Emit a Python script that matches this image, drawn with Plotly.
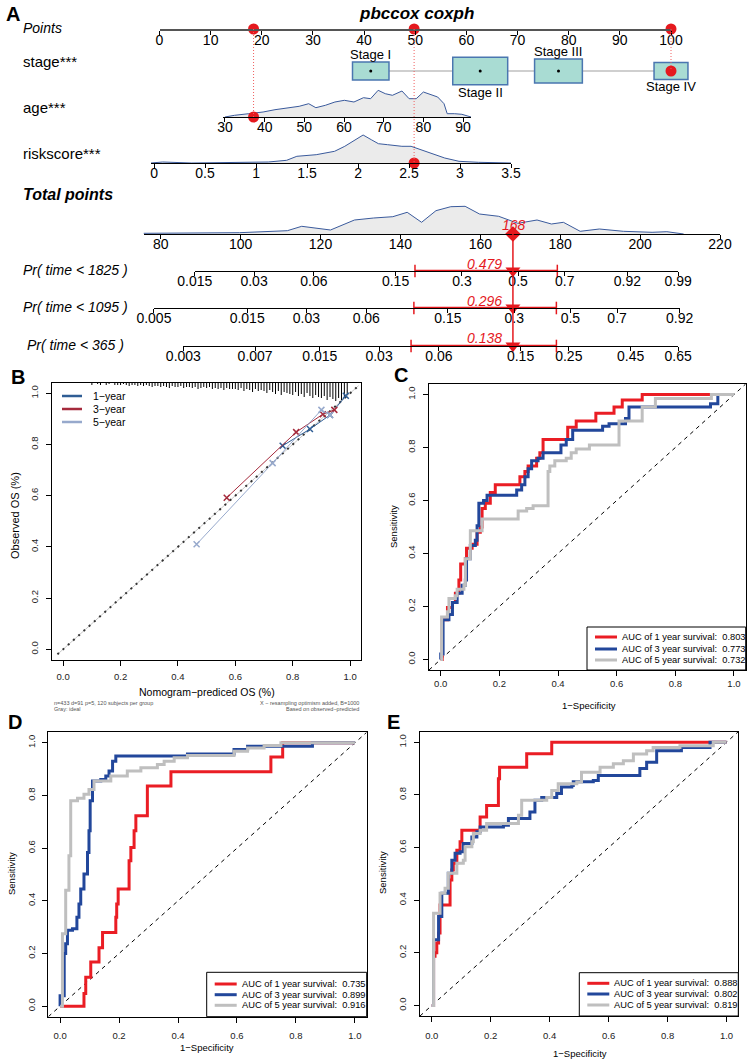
import numpy as np
import plotly.graph_objects as go

W, H = 749, 1062
FONT = "Arial, 'Liberation Sans', Helvetica, sans-serif"
RED = "#e5191e"
DENS_LINE = "#3a5a9c"
DENS_FILL = "#ebebeb"

# ---------------- Panel A: nomogram data
points_ticks = [0, 10, 20, 30, 40, 50, 60, 70, 80, 90, 100]

stage_labels = ["Stage I", "Stage II", "Stage III", "Stage IV"]
stage_points = [41.3, 62.7, 78.0, 100.0]
stage_n = [74, 168, 127, 64]
stage_label_side = ["above", "below", "above", "below"]

age_ticks = [30, 40, 50, 60, 70, 80, 90]
age_grid = [30.0, 32.4, 36.0, 39.6, 42.6, 45.6, 48.7, 51.1, 52.9, 55.3, 57.7, 60.1, 62.5, 64.9,
            66.7, 68.6, 70.4, 72.2, 74.6, 76.4, 78.2, 80.0, 81.8, 83.6, 85.2, 86.0, 87.8, 89.7, 92.0]
age_dens = [0, 1.7, 3.3, 5.0, 7.3, 9.3, 10.7, 13.3, 9.3, 11.7, 15.0, 16.7, 15.0, 19.3,
            18.3, 26.7, 23.3, 21.7, 26.0, 18.3, 18.3, 25.0, 22.7, 20.0, 13.3, 3.3, 3.3, 2.7, 0]

risk_ticks = [0, 0.5, 1, 1.5, 2, 2.5, 3, 3.5]
risk_grid = [-0.03, 0.085, 0.37, 0.74, 1.12, 1.30, 1.40, 1.59, 1.77, 1.87, 1.96, 2.05, 2.13, 2.20,
             2.29, 2.43, 2.52, 2.62, 2.71, 2.85, 2.99, 3.18, 3.5]
risk_dens = [0, 1.0, 0, 0.7, 1.0, 2.7, 6.7, 8.3, 11.7, 16.7, 22.7, 28.0, 23.3, 19.3,
             18.3, 16.7, 16.7, 13.3, 10.0, 5.0, 1.7, 0.7, 0]

total_ticks = [80, 100, 120, 140, 160, 180, 200, 220]
total_grid = [75.7, 87.6, 99.7, 111.7, 115.3, 122.5, 128.5, 133.3, 138.1, 141.7, 145.3, 148.9, 152.6,
              156.2, 159.8, 164.6, 169.4, 174.2, 177.8, 180.8, 185.0, 189.8, 195.8, 203.0, 206.7, 210.9]
total_dens = [0.7, 1.0, 1.3, 3.3, 7.7, 4.0, 14.0, 16.0, 17.3, 21.7, 11.7, 23.3, 27.3,
              27.7, 20.0, 17.7, 10.7, 14.0, 10.0, 11.7, 2.7, 5.0, 2.7, 1.7, 2.3, 0]

obs_stage = "Stage IV"
obs_age = 37.2
obs_risk = 2.55

pr_labels = ["Pr( time < 1825 )", "Pr( time < 1095 )", "Pr( time < 365 )"]
pr_ticks = [
    [0.015, 0.03, 0.06, 0.15, 0.3, 0.5, 0.7, 0.92, 0.99],
    [0.005, 0.015, 0.03, 0.06, 0.15, 0.3, 0.5, 0.7, 0.92],
    [0.003, 0.007, 0.015, 0.03, 0.06, 0.15, 0.25, 0.45, 0.65],
]
pr_obs = [0.479, 0.296, 0.138]
pr_ci_lo = [0.185, 0.103, 0.0435]
pr_ci_hi = [0.668, 0.444, 0.220]
haz_slope = 21.15  # total points per unit of log cumulative hazard

# ---------------- Panel B: calibration data
cal_years = ["1−year", "3−year", "5−year"]
cal_colors = ["#2f5d94", "#a52a3c", "#97a9cc"]
cal_pred = [[0.765, 0.86, 0.93, 0.985], [0.57, 0.812, 0.905, 0.945], [0.465, 0.73, 0.90, 0.93]]
cal_obs = [[0.795, 0.86, 0.915, 0.99], [0.592, 0.848, 0.918, 0.935], [0.41, 0.727, 0.935, 0.915]]
rug_start, rug_step = 0.10, 0.01
rug_counts = [2, 0, 1, 2, 0, 2, 1, 0, 2, 2,
              2, 1, 2, 3, 2, 2, 3, 2, 3, 2,
              3, 4, 3, 3, 4, 3, 4, 5, 3, 4,
              4, 3, 5, 4, 4, 5, 4, 6, 5, 4,
              5, 4, 6, 5, 6, 5, 7, 5, 6, 6,
              6, 7, 5, 8, 6, 7, 9, 6, 8, 7,
              8, 10, 7, 9, 11, 8, 12, 9, 10, 11,
              12, 9, 13, 11, 14, 10, 13, 15, 12, 14,
              15, 13, 17, 14, 16, 18, 15, 17, 14, 12]

# ---------------- Panels C, D, E: ROC data (fpr, tpr)
roc_years = [1, 3, 5]
roc_colors = ["#ea1d24", "#22479b", "#bfbfbf"]
roc = {
    "C": {
        "auc": [0.803, 0.773, 0.732],
        "fpr": [
            [0, 0.005, 0.023, 0.04, 0.05, 0.062, 0.068, 0.084, 0.088, 0.107, 0.124, 0.135, 0.141, 0.152, 0.169,
             0.186, 0.259, 0.27, 0.287, 0.298, 0.327, 0.338, 0.349, 0.422, 0.433, 0.462, 0.529, 0.591, 0.619,
             0.687, 1.0],
            [0, 0.008, 0.028, 0.04, 0.056, 0.073, 0.084, 0.088, 0.101, 0.118, 0.124, 0.13, 0.146, 0.158, 0.248,
             0.259, 0.276, 0.287, 0.298, 0.31, 0.332, 0.349, 0.405, 0.41, 0.428, 0.45, 0.529, 0.552, 0.574,
             0.63, 0.642, 0.92, 0.945, 1.0],
            [0, 0.003, 0.023, 0.028, 0.05, 0.056, 0.079, 0.084, 0.101, 0.135, 0.141, 0.248, 0.264, 0.293,
             0.315, 0.366, 0.372, 0.389, 0.428, 0.445, 0.462, 0.507, 0.552, 0.608, 0.687, 0.732, 0.912,
             0.923, 1.0],
        ],
        "tpr": [
            [0, 0, 0.15, 0.196, 0.215, 0.25, 0.30, 0.36, 0.38, 0.42, 0.435, 0.48, 0.50, 0.57, 0.59,
             0.63, 0.66, 0.66, 0.69, 0.71, 0.73, 0.76, 0.78, 0.83, 0.83, 0.877, 0.90, 0.93, 0.953,
             0.98, 1.0],
            [0, 0.02, 0.15, 0.17, 0.215, 0.25, 0.28, 0.30, 0.38, 0.43, 0.45, 0.505, 0.59, 0.60, 0.62,
             0.62, 0.64, 0.66, 0.69, 0.72, 0.75, 0.76, 0.78, 0.78, 0.81, 0.83, 0.865, 0.865, 0.88,
             0.89, 0.91, 0.953, 0.965, 1.0],
            [0, 0, 0.16, 0.18, 0.23, 0.24, 0.265, 0.28, 0.38, 0.486, 0.486, 0.53, 0.53, 0.56,
             0.57, 0.58, 0.71, 0.73, 0.75, 0.76, 0.78, 0.795, 0.81, 0.81, 0.90, 0.953, 0.985,
             0.985, 1.0],
        ],
    },
    "D": {
        "auc": [0.735, 0.899, 0.916],
        "fpr": [
            [0, 0.081, 0.087, 0.104, 0.132, 0.144, 0.189, 0.192, 0.197, 0.234, 0.24, 0.251, 0.257, 0.296,
             0.376, 0.715, 0.755, 1.0],
            [0, 0.014, 0.019, 0.025, 0.042, 0.057, 0.064, 0.07, 0.081, 0.093, 0.098, 0.102, 0.11, 0.138,
             0.155, 0.166, 0.178, 0.189, 0.432, 0.59, 0.636, 0.856, 1.0],
            [0, 0.008, 0.019, 0.03, 0.036, 0.059, 0.081, 0.098, 0.115, 0.172, 0.228, 0.274, 0.33, 0.353,
             0.387, 0.432, 0.59, 0.636, 0.692, 0.749, 1.0],
        ],
        "tpr": [
            [0, 0, 0.048, 0.11, 0.168, 0.222, 0.28, 0.338, 0.388, 0.445, 0.552, 0.603, 0.666, 0.723,
             0.836, 0.89, 0.946, 1.0],
            [0, 0.04, 0.2, 0.237, 0.288, 0.294, 0.338, 0.388, 0.445, 0.502, 0.584, 0.666, 0.78, 0.855,
             0.861, 0.874, 0.893, 0.93, 0.95, 0.958, 0.975, 0.987, 1.0],
            [0, 0, 0.275, 0.44, 0.571, 0.78, 0.79, 0.805, 0.823, 0.855, 0.874, 0.893, 0.905, 0.918,
             0.93, 0.943, 0.952, 0.968, 0.98, 0.99, 1.0],
        ],
    },
    "E": {
        "auc": [0.888, 0.802, 0.819],
        "fpr": [
            [0, 0.006, 0.011, 0.017, 0.023, 0.028, 0.062, 0.068, 0.073, 0.085, 0.096, 0.102, 0.164, 0.186,
             0.226, 0.23, 0.322, 0.407, 1.0],
            [0, 0.006, 0.023, 0.034, 0.051, 0.056, 0.068, 0.079, 0.096, 0.107, 0.13, 0.136, 0.153, 0.164,
             0.243, 0.26, 0.311, 0.333, 0.35, 0.373, 0.424, 0.44, 0.475, 0.48, 0.548, 0.565, 0.695,
             0.706, 0.729, 0.763, 0.819, 0.847, 0.944, 1.0],
            [0, 0.006, 0.028, 0.045, 0.056, 0.079, 0.085, 0.107, 0.113, 0.136, 0.141, 0.164, 0.186, 0.277,
             0.294, 0.305, 0.39, 0.407, 0.429, 0.492, 0.508, 0.571, 0.616, 0.65, 0.684, 0.729, 0.751,
             0.842, 0.955, 1.0],
        ],
        "tpr": [
            [0, 0, 0.187, 0.2, 0.237, 0.275, 0.382, 0.477, 0.515, 0.54, 0.59, 0.622, 0.666, 0.716,
             0.76, 0.861, 0.905, 0.956, 1.0],
            [0, 0, 0.25, 0.338, 0.426, 0.426, 0.502, 0.552, 0.578, 0.584, 0.615, 0.615, 0.64, 0.66,
             0.678, 0.685, 0.71, 0.71, 0.735, 0.78, 0.79, 0.805, 0.83, 0.836, 0.85, 0.855, 0.874,
             0.874, 0.9, 0.924, 0.968, 0.968, 0.98, 1.0],
            [0, 0, 0.35, 0.426, 0.445, 0.502, 0.502, 0.54, 0.552, 0.603, 0.622, 0.653, 0.666, 0.691,
             0.691, 0.723, 0.78, 0.79, 0.817, 0.842, 0.849, 0.886, 0.905, 0.918, 0.93, 0.955, 0.968,
             0.98, 0.987, 1.0],
        ],
    },
}

# ---------------- layout geometry (pixels)
PTS_PX = (159.5, 671.0)          # pixel of 0 and 100 points
AGE_RANGE, AGE_PX = (29.5, 92.0), (223.0, 471.0)
RISK_RANGE, RISK_PX = (-0.03, 3.5), (151.0, 511.0)
TOT_PX80, TOT_K = 160.7, 3.995   # total points axis: px of 80, px per point
TOT_RANGE = (75.7, 220.0)
ROW_Y = {"points": 29, "stage": 71, "age": 117, "risk": 163, "total": 234}
PR_Y = [271, 308, 346]


def lin(v, v0, v1, p0, p1):
    return p0 + (v - v0) * (p1 - p0) / (v1 - v0)


def to_points(px):
    return (px - PTS_PX[0]) / (PTS_PX[1] - PTS_PX[0]) * 100


def pts_px(p):
    return PTS_PX[0] + p * (PTS_PX[1] - PTS_PX[0]) / 100


def tot_px(tp):
    return TOT_PX80 + (tp - 80) * TOT_K


def cloglog(p):
    return np.log(-np.log(1 - np.asarray(p, dtype=float)))


fig = go.Figure()
layout = dict(template="none", width=W, height=H, margin=dict(l=0, r=0, t=0, b=0, pad=0),
              paper_bgcolor="white", plot_bgcolor="rgba(0,0,0,0)", showlegend=False,
              font=dict(family=FONT, color="black"))
shapes, annots = [], []


def note(x, y, s, size, color="black", xanchor="left", yanchor="middle", angle=0):
    annots.append(dict(x=x / W, y=1 - y / H, xref="paper", yref="paper", text=s, showarrow=False,
                       xanchor=xanchor, yanchor=yanchor, textangle=angle,
                       font=dict(family=FONT, size=size, color=color)))


def row_axes(n, rng, px_rng, line_y, ticks=None, ticktext=None, height=30, yr=(0, 30), visible=True,
             linecolor="black", linewidth=1):
    layout[f"xaxis{n}"] = dict(domain=[px_rng[0] / W, px_rng[1] / W], range=list(rng), anchor=f"y{n}",
                               showgrid=False, zeroline=False, showline=visible, linecolor=linecolor,
                               linewidth=linewidth, ticks="outside" if visible else "", ticklen=4,
                               tickcolor="black", tickvals=ticks, ticktext=ticktext, visible=visible,
                               tickfont=dict(family=FONT, size=14, color="black"), ticklabelstandoff=-7,
                               automargin=False, fixedrange=True)
    layout[f"yaxis{n}"] = dict(domain=[1 - line_y / H, 1 - (line_y - height) / H], range=list(yr),
                               anchor=f"x{n}", visible=False, automargin=False, fixedrange=True)


# ================= Panel A
note(4, 14, "<b>A</b>", 20)
note(416, 13, "<b><i>pbccox coxph</i></b>", 17, xanchor="center")

# Points row
row_axes(5, (0, 100), PTS_PX, ROW_Y["points"], ticks=points_ticks, linecolor="#555", linewidth=1.5, height=10,
         yr=(0, 10))
note(21, 28, "<i>Points</i>", 14)

# stage row (same scale as Points, wider window so the boxes are not clipped)
row_axes(6, (-10, 110), (pts_px(-10), pts_px(110)), ROW_Y["stage"] + 30, height=60, yr=(-30, 30),
         visible=False)
note(21, 61, "stage***", 15)
shapes.append(dict(type="line", xref="x6", yref="y6", x0=stage_points[0], x1=stage_points[-1], y0=0, y1=0,
                   line=dict(color="#cfcfcf", width=2), layer="below"))
pt_per_px = 100 / (PTS_PX[1] - PTS_PX[0])
for lab, sp, n, side in zip(stage_labels, stage_points, stage_n, stage_label_side):
    h = 2.12 * np.sqrt(n)
    shapes.append(dict(type="rect", xref="x6", yref="y6", x0=sp - h * pt_per_px, x1=sp + h * pt_per_px,
                       y0=-h / 2, y1=h / 2, fillcolor="#a9dcd3", line=dict(color="#4a76b0", width=1.5),
                       layer="below"))
    annots.append(dict(x=sp, y=h / 2 if side == "above" else -h / 2, xref="x6", yref="y6", text=lab,
                       showarrow=False, xanchor="center", yanchor="bottom" if side == "above" else "top",
                       yshift=-1 if side == "above" else 1, borderpad=0,
                       font=dict(family=FONT, size=13, color="black")))
fig.add_trace(go.Scatter(x=stage_points, y=[0] * 4, mode="markers", xaxis="x6", yaxis="y6",
                         marker=dict(color="black", size=3)))

# age row
row_axes(7, AGE_RANGE, AGE_PX, ROW_Y["age"], ticks=age_ticks)
note(21, 107, "age***", 15)
fig.add_trace(go.Scatter(x=age_grid, y=age_dens, mode="lines", fill="tozeroy", fillcolor=DENS_FILL,
                         line=dict(color=DENS_LINE, width=1), xaxis="x7", yaxis="y7"))

# riskscore row
row_axes(8, RISK_RANGE, RISK_PX, ROW_Y["risk"], ticks=risk_ticks)
note(21, 154, "riskscore***", 15)
fig.add_trace(go.Scatter(x=risk_grid, y=risk_dens, mode="lines", fill="tozeroy", fillcolor=DENS_FILL,
                         line=dict(color=DENS_LINE, width=1), xaxis="x8", yaxis="y8"))

# points contributed by the observation
age_pts = to_points(lin(obs_age, *AGE_RANGE, *AGE_PX))
risk_pts = to_points(lin(obs_risk, *RISK_RANGE, *RISK_PX))
stage_pts = stage_points[stage_labels.index(obs_stage)]
total_obs = age_pts + risk_pts + stage_pts

# total points row
row_axes(9, TOT_RANGE, (tot_px(TOT_RANGE[0]), tot_px(TOT_RANGE[1])), ROW_Y["total"], ticks=total_ticks)
note(21, 194, "<b><i>Total points</i></b>", 16)
fig.add_trace(go.Scatter(x=total_grid, y=total_dens, mode="lines", fill="tozeroy", fillcolor=DENS_FILL,
                         line=dict(color=DENS_LINE, width=1), xaxis="x9", yaxis="y9"))

# probability rows
for k, (lab, ticks) in enumerate(zip(pr_labels, pr_ticks)):
    n = 10 + k
    tick_tp = total_obs + haz_slope * (cloglog(ticks) - cloglog(pr_obs[k]))
    row_axes(n, (tick_tp[0], tick_tp[-1]), (tot_px(tick_tp[0]), tot_px(tick_tp[-1])), PR_Y[k],
             ticks=list(tick_tp), ticktext=[str(t) for t in ticks], height=10, yr=(0, 10))
    note(25 if k == 2 else 21, PR_Y[k] - 1, f"<i>{lab}</i>", 14)
    ci_tp = total_obs + haz_slope * (cloglog([pr_ci_lo[k], pr_ci_hi[k]]) - cloglog(pr_obs[k]))
    fig.add_trace(go.Scatter(x=list(ci_tp), y=[0, 0], mode="lines+markers", xaxis=f"x{n}", yaxis=f"y{n}",
                             line=dict(color=RED, width=2.5), cliponaxis=False,
                             marker=dict(symbol="line-ns", size=9, line=dict(color=RED, width=1.5))))
    fig.add_trace(go.Scatter(x=[total_obs], y=[0.2], mode="markers", xaxis=f"x{n}", yaxis=f"y{n}",
                             cliponaxis=False, marker=dict(symbol="triangle-down", size=13, color=RED)))
    note(tot_px(total_obs) - 9, PR_Y[k] - 7.5, f"<i>{pr_obs[k]}</i>", 14, color=RED, xanchor="right")

# red observation marks
fig.add_trace(go.Scatter(x=[age_pts, risk_pts, stage_pts], y=[0, 0, 0], mode="markers", xaxis="x5", yaxis="y5",
                         cliponaxis=False, marker=dict(color=RED, size=11)))
fig.add_trace(go.Scatter(x=[stage_pts], y=[0], mode="markers", xaxis="x6", yaxis="y6", cliponaxis=False,
                         marker=dict(color=RED, size=11)))
fig.add_trace(go.Scatter(x=[obs_age], y=[0], mode="markers", xaxis="x7", yaxis="y7", cliponaxis=False,
                         marker=dict(color=RED, size=11)))
fig.add_trace(go.Scatter(x=[obs_risk], y=[0], mode="markers", xaxis="x8", yaxis="y8", cliponaxis=False,
                         marker=dict(color=RED, size=11)))
fig.add_trace(go.Scatter(x=[total_obs], y=[0], mode="markers", xaxis="x9", yaxis="y9", cliponaxis=False,
                         marker=dict(color=RED, size=12, symbol="diamond")))
note(tot_px(total_obs) + 1, 224.5, f"<i>{total_obs:.0f}</i>", 14, color=RED, xanchor="center")

for pts, yend in [(age_pts, ROW_Y["age"]), (risk_pts, ROW_Y["risk"]), (stage_pts, ROW_Y["stage"])]:
    shapes.append(dict(type="line", xref="paper", yref="paper", x0=pts_px(pts) / W, x1=pts_px(pts) / W,
                       y0=1 - ROW_Y["points"] / H, y1=1 - yend / H,
                       line=dict(color="#f06060", width=1, dash="1px,2px")))
shapes.append(dict(type="line", xref="paper", yref="paper", x0=tot_px(total_obs) / W, x1=tot_px(total_obs) / W,
                   y0=1 - ROW_Y["total"] / H, y1=1 - PR_Y[-1] / H, line=dict(color=RED, width=1.5)))


# ================= panels B-E shared axis style
def panel_axes(suffix, xpx, ypx, xr, yr, font, xstand=0, ystand=0):
    ax = dict(showgrid=False, zeroline=False, showline=True, mirror=True, linecolor="black", linewidth=1,
              ticks="outside", ticklen=5, tickcolor="black", tickvals=[0, 0.2, 0.4, 0.6, 0.8, 1.0],
              tickformat=".1f", fixedrange=True, automargin=False,
              tickfont=dict(family=FONT, size=font, color="#222"))
    layout[f"xaxis{suffix}"] = dict(ax, domain=[xpx[0] / W, xpx[1] / W], range=list(xr), anchor=f"y{suffix}",
                                    ticklabelstandoff=xstand)
    layout[f"yaxis{suffix}"] = dict(ax, domain=[1 - ypx[1] / H, 1 - ypx[0] / H], range=list(yr),
                                    anchor=f"x{suffix}", tickangle=-90, ticklabelstandoff=ystand)


# ================= Panel B: calibration
panel_axes("", (52, 361), (383, 660), (-0.039, 1.038), (-0.042, 1.04), 9.5, xstand=3, ystand=4)
note(9, 377, "<b>B</b>", 20)
rug_x, rug_y = [], []
for i, c in enumerate(rug_counts):
    if c > 0:
        xv = rug_start + i * rug_step
        rug_x += [xv, xv, None]
        rug_y += [1.04, 1.04 - c / 256, None]
fig.add_trace(go.Scatter(x=rug_x, y=rug_y, mode="lines", line=dict(color="black", width=1)))
fig.add_trace(go.Scatter(x=[-0.02, 1.03], y=[-0.02, 1.03], mode="lines", line=dict(color="#c8c8c8", width=1)))
fig.add_trace(go.Scatter(x=[-0.02, 1.03], y=[-0.02, 1.03], mode="lines",
                         line=dict(color="#333", width=2, dash="2px,5px")))
for name, col, xp, yo in zip(cal_years, cal_colors, cal_pred, cal_obs):
    fig.add_trace(go.Scatter(x=xp, y=yo, mode="lines+markers", line=dict(color=col, width=1),
                             marker=dict(symbol="x-thin", size=6, line=dict(color=col, width=1.5))))
for k, (name, col) in enumerate(zip(cal_years, cal_colors)):
    yy = 396 + 13 * k
    shapes.append(dict(type="line", xref="paper", yref="paper", x0=62 / W, x1=82 / W, y0=1 - yy / H,
                       y1=1 - yy / H, line=dict(color=col, width=2.5)))
    note(91, yy, name, 10.5)
note(15, 516, "Observed OS (%)", 11, xanchor="center", angle=-90)
note(207, 692, "Nomogram−prediced OS (%)", 10.5, xanchor="center")
note(52, 703, "n=433 d=91 p=5, 120 subjects per group", 5.5, color="#555")
note(52, 709, "Gray: ideal", 5.5, color="#555")
note(361, 703, "X − resampling optimism added, B=1000", 5.5, color="#555", xanchor="right")
note(361, 709, "Based on observed−predicted", 5.5, color="#555", xanchor="right")

# ================= Panels C, D, E: ROC
panels = [
    ("C", "2", (429, 745.7), (384, 670), (392, 375), (589, 705), (393, 527), (587, 627), [637, 649, 660], 0),
    ("D", "3", (48.3, 366.7), (732.3, 1016.7), (6, 722), (207, 1047), (11, 874), (206.7, 972.3),
     [984, 994.7, 1005.3], 5),
    ("E", "4", (420, 738.3), (731.7, 1016), (385, 722), (580, 1053), (382, 873), (579.3, 972.7),
     [983.3, 994, 1005], 6),
]
for key, sfx, xpx, ypx, letter, xtitle, ytitle, legbox, legy, xstand in panels:
    panel_axes(sfx, xpx, ypx, (-0.04, 1.04), (-0.04, 1.04), 9.5, xstand=xstand, ystand=4)
    note(letter[0], letter[1], f"<b>{key}</b>", 20)
    fig.add_trace(go.Scatter(x=[-0.04, 1.04], y=[-0.04, 1.04], mode="lines", xaxis=f"x{sfx}", yaxis=f"y{sfx}",
                             line=dict(color="black", width=1, dash="4px,4px")))
    d = roc[key]
    for fpr, tpr, col in zip(d["fpr"], d["tpr"], roc_colors):
        fig.add_trace(go.Scatter(x=fpr, y=tpr, mode="lines", line=dict(color=col, width=3, shape="vh"),
                                 xaxis=f"x{sfx}", yaxis=f"y{sfx}"))
    note(xtitle[0], xtitle[1], "1−Specificity", 9.5, xanchor="center")
    note(ytitle[0], ytitle[1], "Sensitivity", 9.5, xanchor="center", angle=-90)
    shapes.append(dict(type="rect", xref="paper", yref="paper", x0=legbox[0] / W, x1=xpx[1] / W,
                       y0=1 - ypx[1] / H, y1=1 - legbox[1] / H, fillcolor="white",
                       line=dict(color="black", width=1)))
    for yr_, col, auc, yy in zip(roc_years, roc_colors, d["auc"], legy):
        shapes.append(dict(type="line", xref="paper", yref="paper", x0=(legbox[0] + 8) / W,
                           x1=(legbox[0] + 30) / W, y0=1 - yy / H, y1=1 - yy / H, line=dict(color=col, width=3)))
        note(legbox[0] + 33, yy, f"AUC of {yr_} year survival:\u00a0\u00a0{auc:.3f}", 9.3)

layout["shapes"] = shapes
layout["annotations"] = annots
fig.update_layout(**layout)
fig.write_html("out.html", config={"displayModeBar": False},
               post_script="document.body.style.margin='0';")
